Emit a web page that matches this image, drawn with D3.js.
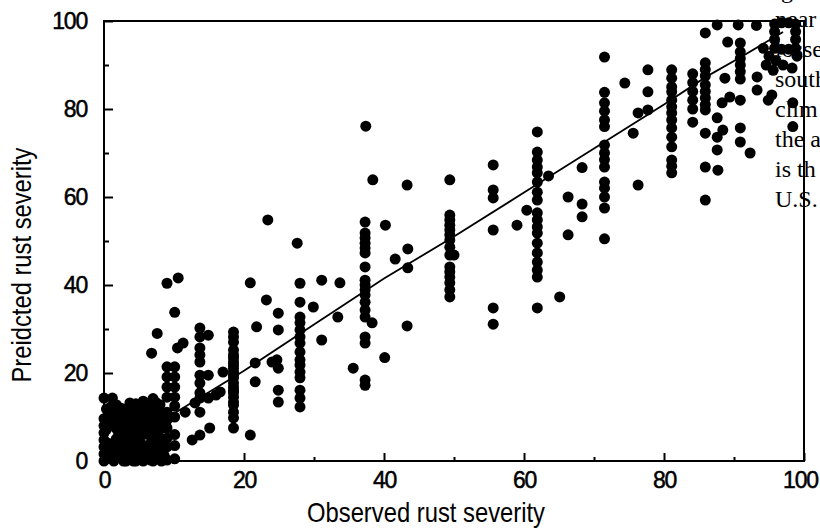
<!DOCTYPE html>
<html>
<head>
<meta charset="utf-8">
<script src="https://cdn.jsdelivr.net/npm/d3@7"></script>
<style>
  body { margin: 0; background: #fff; }
  svg { display: block; }
</style>
</head>
<body>
<svg></svg>
<script>
// observed vs predicted rust severity
const lowCluster = [
  [0,0],[0,1.6],[0,3.2],[0,4.8],[0,6.4],[0,8],[0,9.6],[0,14.3],
  [0.7,0.6],[0.7,2.4],[0.7,4],[0.7,8.8],[0.7,10.4],[1.2,14.3],
  [1.4,0],[1.4,1.6],[1.4,3.4],[1.4,9.4],[1.4,11.2],
  [2.1,0.8],[2.1,2.6],[2.1,4.4],[2.1,6.2],[2.1,8],[2.1,9.8],
  [2.8,0],[2.8,1.8],[2.8,3.6],[2.8,5.6],[2.8,7.6],[2.8,10.4],
  [3.5,1],[3.5,3],[3.5,4.8],[3.5,6.8],[3.5,8.6],[3.7,13.2],
  [4.2,0],[4.2,2],[4.2,4],[4.2,6],[4.2,7.8],[4.2,9.6],[4.4,12],
  [4.9,1],[4.9,3],[4.9,5],[4.9,7],[4.9,8.8],[4.9,11],
  [5.6,0],[5.6,2.4],[5.6,6],[5.6,8],[5.6,10],[5.6,12.4],
  [6.3,1.8],[6.3,3.6],[6.3,7],[6.3,9.4],[6.3,11.2],
  [7,0],[7,2.4],[7,5],[7,8],[7,10],[7,14.2],
  [7.7,1],[7.7,3.4],[7.7,6.2],[7.7,9.4],[7.7,12],
  [8.2,0],[8.2,5],[8.2,7.4],[8.2,10.6],
  [0.35,0.8],[0.35,2.8],[0.35,7.2],[0.35,11.8],
  [1.05,1.2],[1.05,9.6],[1.05,12.4],
  [1.75,5],[1.75,7.4],[1.75,11],[1.75,12.8],
  [2.45,1.2],[2.45,4.6],[2.45,9],[2.45,12],
  [3.15,0],[3.15,2.4],[3.15,5.6],[3.15,9.6],[3.15,11.6],
  [3.85,1.6],[3.85,7.4],[3.85,10.8],
  [4.55,0],[4.55,6],[4.55,10],[4.55,13],
  [5.25,1.4],[5.25,4],[5.25,9],[5.25,11.6],[5.6,13.6],
  [6,12.8],[6.65,0.2],[6.65,5.6],[6.65,13.2],
  [7.35,4.4],[7.35,7],[7.35,11],[7.35,13.4],
  [8,2],[8,9],[8,12.8],[8.6,1.2],[8.6,4],[8.6,8.6]
]

const lowPoints = [
  [9,21.4],[9,19.1],[9,16.8],[9,14.5],[9,11.1],[9,9.3],[9,7.5],[9,5.2],[9,3.2],[9,0.2],
  [10.1,21.4],[10.1,19.1],[10.1,16.8],[10.1,14.5],[10.1,12.5],[10.1,10],[10.1,6],[10.1,3.5],[10.1,0.5],
  [9,40.4],[10.6,41.6],[10.1,33.8],[7.6,29],[6.8,24.5],[11.3,26.8],[10.5,25.7],
  [11.6,11.1],[12.6,4.8],[13.7,5.9],[15.1,7.5],[13,13.2],
  [13.7,30.2],[13.7,28.2],[13.7,25.7],[13.7,24.1],[13.7,22.5],[13.7,19.5],[13.7,17.7],[13.7,15.5],[13.7,14.3],[13.7,11.1],
  [14.9,28.6],[14.9,19.5],[14.9,14.3],
  [18.5,29.3],[18.5,28.2],[18.5,27],[18.5,25.2],[18.5,24.1],[18.5,23.4],[18.5,22.5],[18.5,21.8],[18.5,21.1],
  [18.5,20.2],[18.5,19.5],[18.5,18.9],[18.5,17.7],[18.5,16.8],[18.5,16.1],[18.5,15.5],[18.5,14.5],[18.5,13.4],
  [18.5,12.7],[18.5,11.1],[18.5,9.8],[18.5,7.5],
  [17,20.2],[16.6,15.7],[16,15],
  [21.8,30.5],[21.6,18],[20.9,40.5],[21.6,22.3],[20.9,5.9],[23.2,36.6],
  [24.9,33.6],[24.9,29.8],[24.7,23],[24.9,21.1],[24.9,16.1],[24.9,13.4],[24,22.5],
  [28,40.4],[28,36.1],[28,32.7],[28,31.4],[28,29.8],[28,28.2],[28,26.8],[28,24.8],[28,23],[28,21.8],
  [28,20.2],[28,18.9],[28,16.1],[28,14.3],[28,12.3],
  [27.6,49.5],[31.1,41.1],[29.9,35],[31.1,27.5],[33.7,40.5],[33.4,32.7],[35.6,21.1],[40.1,23.5],[23.4,54.8]
]

const midPoints = [
  [37.3,54.3],[37.3,51.8],[37.3,50.7],[37.3,49.5],[37.3,48.4],[37.3,47.3],[37.3,44.1],[37.3,41.1],[37.3,40],
  [37.3,38.9],[37.3,37.7],[37.3,36.1],[37.3,34.3],[37.3,32.7],[37.3,28.2],[37.3,26.8],[37.3,18.4],[37.3,17.2],
  [38.3,31.4],[37.4,76.1],[38.4,63.9],[43.3,62.7],[40.2,53.6],[43.4,48.2],[41.6,45.9],[43.4,43.9],[43.3,30.7],
  [49.4,63.9],[49.4,55.9],[49.4,54.8],[49.4,53.6],[49.4,52.5],[49.4,51.4],[49.4,50.2],[49.4,48.6],[49.4,46.8],
  [49.4,44.1],[49.4,43],[49.4,41.8],[49.4,40.5],[49.4,38.9],[49.4,37.3],[50,46.8],
  [55.6,67.3],[55.6,61.6],[55.6,59.8],[55.6,52.5],[55.6,34.8],[55.6,31.1],[60.4,57],[59,53.6],
  [61.9,74.8],[61.9,70.2],[61.9,68.4],[61.9,66.8],[61.9,65.5],[61.9,63.4],[61.9,61.1],[61.9,59.3],[61.9,56.4],
  [61.9,54.8],[61.9,53.2],[61.9,51.8],[61.9,49.5],[61.9,47.3],[61.9,45.2],[61.9,43.4],[61.9,41.8],[61.9,34.8],
  [63.5,64.8],[65.1,37.3],[66.3,51.4],[66.3,60],[68.3,66.7],[68.3,58.4],[68.3,55.5]
]

const highPoints = [
  [71.5,91.8],[71.5,83.8],[71.5,81.4],[71.5,79.5],[71.5,77.5],[71.5,76],[71.5,71.8],[71.5,70],[71.5,68.5],
  [71.5,66.8],[71.5,63.4],[71.5,62],[71.5,60],[71.5,57.5],[71.5,50.5],
  [74.4,85.9],[75.6,74.5],[76.3,79.1],[76.3,62.7],[77.7,88.9],[77.7,83.9],[77.7,79.8],
  [81.1,88.9],[81.1,87],[81.1,85],[81.1,83.9],[81.1,82],[81.1,80.5],[81.1,79.1],[81.1,77.5],[81.1,75.7],
  [81.1,73.6],[81.1,71.4],[81.1,68.4],[81.1,67],[81.1,65.5],
  [84.1,88],[84.1,86],[84.1,84],[84.1,82],[84.1,80],[84.1,77],
  [85.9,97.3],[85.9,90.5],[85.9,89],[85.9,87.5],[85.9,85.5],[85.9,84],[85.9,82.5],[85.9,81],[85.9,79.8],
  [85.9,74.5],[85.9,66.8],[85.9,59.3],
  [87.6,99.1],[87.6,78],[88.4,75.2],[87.6,73.6],[87.6,70.7],[87.7,66.1],[88.3,81.4],[89.4,82.7],[88.7,87],[89.1,95.2],
  [90.6,99.1],[90.9,95],[90.9,93],[90.9,91.5],[90.9,90],[90.9,88.5],[90.9,86.8],[90.9,82],[90.9,75.7],[90.9,72.5],
  [92.3,70],[93.2,99],[93.3,87.3],[93.3,84.3],[94.9,82],[95.4,83.2],[98.4,81.4],[98.4,76],
  [95.8,99.3],[96.8,99.6],[97.8,99.6],[98.8,99.3],[95.8,97.6],[98.8,97.6],[95.8,95.8],[98.8,95.8],
  [95.8,93.8],[96.8,93.6],[97.8,93.6],[98.8,93.8],[99,92],[95,92],[96,91],[94.6,90],[97,90],[98.3,89.3],
  [95.6,88.8],[94.2,93.8]
]

// fitted curve
const fitLine = [[0.5,0.8],[10,10.8],[20,20.5],[30,31],[40,41.5],[50,51],[60,61],[70,71],[80,81],[86,87.3],[91,91.8],[97,97.5]]

const majorTicks = [0, 20, 40, 60, 80, 100]
const minorTicks = [10, 30, 50, 70, 90]

// fragments of the page text to the right of the figure
const sideText = ["near", "losse", "south", "clim", "the a", "is th", "U.S."]

let svgWidth = 820, svgHeight = 529

let svg = d3.select('svg')
    .attr('width', svgWidth)
    .attr('height', svgHeight)

svg.append('rect').attr('width', svgWidth).attr('height', svgHeight).attr('fill', '#fff')

let x = d3.scaleLinear().domain([0, 100]).range([104, 804])
let y = d3.scaleLinear().domain([0, 100]).range([461, 21])

let allPoints = lowCluster.concat(lowPoints, midPoints, highPoints)

svg.selectAll('circle.pt')
    .data(allPoints)
    .enter()
    .append('circle')
    .attr('class', 'pt')
    .attr('cx', d => x(d[0]))
    .attr('cy', d => y(d[1]))
    .attr('r', 5.5)
    .attr('fill', '#000')

svg.append('path')
    .datum(fitLine)
    .attr('d', d3.line().x(d => x(d[0])).y(d => y(d[1])))
    .attr('fill', 'none')
    .attr('stroke', '#000')
    .attr('stroke-width', 1.8)

// frame
svg.append('rect')
    .attr('x', x(0)).attr('y', y(100))
    .attr('width', x(100) - x(0)).attr('height', y(0) - y(100))
    .attr('fill', 'none')
    .attr('stroke', '#000')
    .attr('stroke-width', 2)

function styleAxis(g) {
    g.select('.domain').remove()
    g.selectAll('line').attr('stroke', '#000').attr('stroke-width', 2)
    g.selectAll('text')
        .attr('fill', '#000')
        .attr('stroke', '#000')
        .attr('stroke-width', 0.5)
        .style('font-family', '"Liberation Sans", Arial, sans-serif')
        .style('font-size', '23px')
        .style('letter-spacing', '-1.2px')
}

let xAxis = svg.append('g')
    .attr('transform', 'translate(0,' + y(0) + ')')
    .call(d3.axisBottom(x).tickValues(majorTicks).tickSize(-8).tickPadding(11).tickFormat(d3.format('d')))
    .call(styleAxis)
xAxis.selectAll('text').filter(d => d === 100).attr('dx', -4)

svg.append('g')
    .attr('transform', 'translate(0,' + y(0) + ')')
    .call(d3.axisBottom(x).tickValues(minorTicks).tickSize(-4).tickFormat(''))
    .call(styleAxis)

svg.append('g')
    .attr('transform', 'translate(' + x(0) + ',0)')
    .call(d3.axisLeft(y).tickValues(majorTicks).tickSize(-9).tickPadding(17).tickFormat(d3.format('d')))
    .call(styleAxis)

svg.append('g')
    .attr('transform', 'translate(' + x(0) + ',0)')
    .call(d3.axisLeft(y).tickValues(minorTicks).tickSize(-5).tickFormat(''))
    .call(styleAxis)

// axis titles
svg.append('text')
    .attr('x', 426).attr('y', 522)
    .attr('text-anchor', 'middle')
    .attr('textLength', 238).attr('lengthAdjust', 'spacingAndGlyphs')
    .style('font-family', '"Liberation Sans", Arial, sans-serif')
    .style('font-size', '28px')
    .text('Observed rust severity')

svg.append('text')
    .attr('transform', 'translate(31,265) rotate(-90)')
    .attr('text-anchor', 'middle')
    .attr('textLength', 235).attr('lengthAdjust', 'spacingAndGlyphs')
    .style('font-family', '"Liberation Sans", Arial, sans-serif')
    .style('font-size', '28px')
    .text('Preidcted rust severity')

// page text bleeding in from the right
svg.append('text')
    .attr('x', 781).attr('y', -2)
    .style('font-family', '"Liberation Serif", "Times New Roman", serif')
    .style('font-size', '24px')
    .text('g')

svg.selectAll('text.side')
    .data(sideText)
    .enter()
    .append('text')
    .attr('class', 'side')
    .attr('x', 775)
    .attr('y', (d, i) => 27 + i * 30)
    .style('font-family', '"Liberation Serif", "Times New Roman", serif')
    .style('font-size', '24px')
    .text(d => d)
</script>
</body>
</html>
